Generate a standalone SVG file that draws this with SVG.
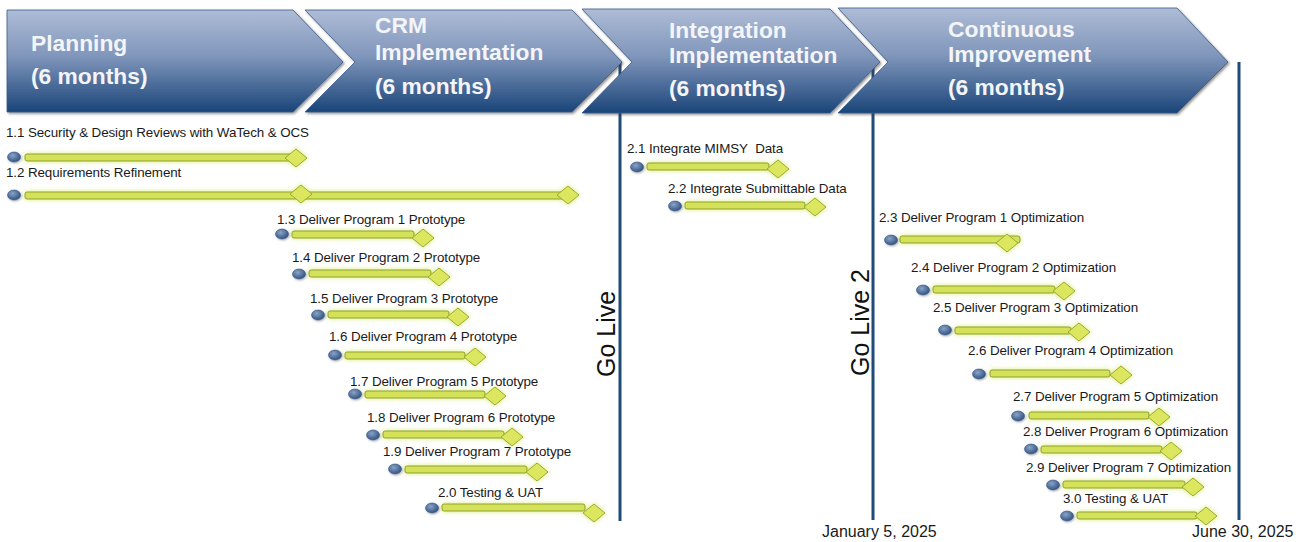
<svg xmlns="http://www.w3.org/2000/svg" width="1303" height="542" viewBox="0 0 1303 542">
<defs>
<linearGradient id="chev" x1="0" y1="0" x2="0" y2="1">
<stop offset="0" stop-color="#aebcd6"/>
<stop offset="0.45" stop-color="#8096bb"/>
<stop offset="1" stop-color="#1a4579"/>
</linearGradient>
<radialGradient id="dot" cx="0.4" cy="0.35" r="0.7">
<stop offset="0" stop-color="#8aa4c8"/>
<stop offset="1" stop-color="#2c4d7c"/>
</radialGradient>
<filter id="shadow" x="-5%" y="-10%" width="115%" height="130%">
<feDropShadow dx="1.5" dy="1.5" stdDeviation="1.2" flood-color="#404040" flood-opacity="0.55"/>
</filter>
<filter id="glow" x="-20%" y="-100%" width="140%" height="300%">
<feGaussianBlur in="SourceAlpha" stdDeviation="2.5" result="b"/>
<feFlood flood-color="#cfe65a" flood-opacity="0.85"/>
<feComposite in2="b" operator="in" result="g"/>
<feMerge><feMergeNode in="g"/><feMergeNode in="SourceGraphic"/></feMerge>
</filter>
<filter id="dsh" x="-50%" y="-50%" width="200%" height="200%">
<feDropShadow dx="0.8" dy="1" stdDeviation="0.8" flood-color="#000" flood-opacity="0.35"/>
</filter>
</defs>
<style>
.chev{fill:url(#chev);stroke:#3a5c8a;stroke-width:0.8;filter:url(#shadow);}
.ph{font-family:"Liberation Sans",Arial,sans-serif;font-weight:bold;font-size:22.8px;fill:#f4f5f8;}
.lbl{font-family:"Liberation Sans",Arial,sans-serif;font-size:13.4px;letter-spacing:-0.1px;fill:#1a1a1a;}
.gl{font-family:"Liberation Sans",Arial,sans-serif;font-size:25px;fill:#111;}
.dt{font-family:"Liberation Sans",Arial,sans-serif;font-size:16px;fill:#1a1a1a;}
.vl{stroke:#1f4b78;stroke-width:3;}
.bar{fill:#d4e25a;stroke:#8f9f2a;stroke-width:1;}
.dia{fill:#dce65e;stroke:#9aab2e;stroke-width:1;}
.dot{fill:url(#dot);stroke:#3a5a88;stroke-width:0.6;filter:url(#dsh);}
.task{filter:url(#glow);}
</style>
<rect width="1303" height="542" fill="#ffffff"/>

<g id="connectors">
<line class="vl" x1="620" y1="62" x2="620" y2="521"/>
<line class="vl" x1="873" y1="64" x2="873" y2="520"/>
<line class="vl" x1="1239" y1="62" x2="1239" y2="520"/>
</g>

<g id="phase-planning">
<polygon class="chev" points="7,10 293,10 343,62 293,112 7,112"/>
<text class="ph" x="31" y="51">Planning</text>
<text class="ph" x="31" y="84">(6 months)</text>
</g>
<g id="phase-crm">
<polygon class="chev" points="305,10 572,10 622,62 572,112 305,112 355,62"/>
<text class="ph" x="375" y="33">CRM</text>
<text class="ph" x="375" y="60">Implementation</text>
<text class="ph" x="375" y="94">(6 months)</text>
</g>
<g id="phase-integration">
<polygon class="chev" points="582,9 830,9 880,62 830,113 582,113 632,62"/>
<text class="ph" x="669" y="38">Integration</text>
<text class="ph" x="669" y="63">Implementation</text>
<text class="ph" x="669" y="96">(6 months)</text>
</g>
<g id="phase-continuous">
<polygon class="chev" points="838,8 1177,8 1228,62 1177,113 838,113 888,62"/>
<text class="ph" x="948" y="37">Continuous</text>
<text class="ph" x="948" y="62">Improvement</text>
<text class="ph" x="948" y="95">(6 months)</text>
</g>

<g id="milestone-golive">
<text class="gl" transform="translate(615,377) rotate(-90)">Go Live</text>
</g>
<g id="milestone-golive2">
<text class="gl" transform="translate(869,376) rotate(-90)">Go Live 2</text>
</g>
<g id="date-jan">
<text class="dt" x="822" y="537">January 5, 2025</text>
</g>
<g id="date-jun">
<text class="dt" x="1192" y="537">June 30, 2025</text>
</g>

<g id="task-1-1">
<text class="lbl" x="6" y="137">1.1 Security &amp; Design Reviews with WaTech &amp; OCS</text>
<g class="task"><rect class="bar" x="25" y="154" width="272" height="7" rx="2"/>
<polygon class="dia" points="296,149 307,158 296,167 285,158"/></g>
<ellipse class="dot" cx="14" cy="157" rx="6.5" ry="5"/>
</g>
<g id="task-1-2">
<text class="lbl" x="6" y="177">1.2 Requirements Refinement</text>
<g class="task"><rect class="bar" x="25" y="192" width="545" height="7" rx="2"/>
<polygon class="dia" points="301,185 312,194 301,203 290,194"/>
<polygon class="dia" points="568,186 579,195 568,204 557,195"/></g>
<ellipse class="dot" cx="14" cy="195" rx="6.5" ry="5"/>
</g>
<g id="task-1-3">
<text class="lbl" x="277" y="224">1.3 Deliver Program 1 Prototype</text>
<g class="task"><rect class="bar" x="292" y="231" width="122" height="7" rx="2"/>
<polygon class="dia" points="423,229 434,238 423,247 412,238"/></g>
<ellipse class="dot" cx="282" cy="234" rx="6.5" ry="5"/>
</g>
<g id="task-1-4">
<text class="lbl" x="292" y="262">1.4 Deliver Program 2 Prototype</text>
<g class="task"><rect class="bar" x="309" y="270" width="122" height="7" rx="2"/>
<polygon class="dia" points="439,268 450,277 439,286 428,277"/></g>
<ellipse class="dot" cx="299" cy="274" rx="6.5" ry="5"/>
</g>
<g id="task-1-5">
<text class="lbl" x="310" y="303">1.5 Deliver Program 3 Prototype</text>
<g class="task"><rect class="bar" x="328" y="311" width="121" height="7" rx="2"/>
<polygon class="dia" points="458,308 469,317 458,326 447,317"/></g>
<ellipse class="dot" cx="318" cy="315" rx="6.5" ry="5"/>
</g>
<g id="task-1-6">
<text class="lbl" x="329" y="341">1.6 Deliver Program 4 Prototype</text>
<g class="task"><rect class="bar" x="345" y="352" width="120" height="7" rx="2"/>
<polygon class="dia" points="475,348 486,357 475,366 464,357"/></g>
<ellipse class="dot" cx="335" cy="355" rx="6.5" ry="5"/>
</g>
<g id="task-1-7">
<text class="lbl" x="350" y="386">1.7 Deliver Program 5 Prototype</text>
<g class="task"><rect class="bar" x="365" y="391" width="120" height="7" rx="2"/>
<polygon class="dia" points="495,387 506,396 495,405 484,396"/></g>
<ellipse class="dot" cx="355" cy="394" rx="6.5" ry="5"/>
</g>
<g id="task-1-8">
<text class="lbl" x="367" y="422">1.8 Deliver Program 6 Prototype</text>
<g class="task"><rect class="bar" x="383" y="431" width="121" height="7" rx="2"/>
<polygon class="dia" points="512,428 523,437 512,446 501,437"/></g>
<ellipse class="dot" cx="373" cy="435" rx="6.5" ry="5"/>
</g>
<g id="task-1-9">
<text class="lbl" x="383" y="456">1.9 Deliver Program 7 Prototype</text>
<g class="task"><rect class="bar" x="405" y="466" width="122" height="7" rx="2"/>
<polygon class="dia" points="537,463 548,472 537,481 526,472"/></g>
<ellipse class="dot" cx="395" cy="469" rx="6.5" ry="5"/>
</g>
<g id="task-2-0">
<text class="lbl" x="438" y="497">2.0 Testing &amp; UAT</text>
<g class="task"><rect class="bar" x="442" y="504" width="143" height="7" rx="2"/>
<polygon class="dia" points="594,504 605,513 594,522 583,513"/></g>
<ellipse class="dot" cx="432" cy="508" rx="6.5" ry="5"/>
</g>

<g id="task-2-1">
<text class="lbl" x="627" y="153">2.1 Integrate MIMSY&#160; Data</text>
<g class="task"><rect class="bar" x="647" y="163" width="122" height="7" rx="2"/>
<polygon class="dia" points="778,160 789,169 778,178 767,169"/></g>
<ellipse class="dot" cx="637" cy="167" rx="6.5" ry="5"/>
</g>
<g id="task-2-2">
<text class="lbl" x="668" y="193">2.2 Integrate Submittable Data</text>
<g class="task"><rect class="bar" x="685" y="202" width="120" height="7" rx="2"/>
<polygon class="dia" points="815,198 826,207 815,216 804,207"/></g>
<ellipse class="dot" cx="675" cy="206" rx="6.5" ry="5"/>
</g>

<g id="task-2-3">
<text class="lbl" x="879" y="222">2.3 Deliver Program 1 Optimization</text>
<g class="task"><rect class="bar" x="900" y="236" width="120" height="7" rx="2"/>
<polygon class="dia" points="1007,234 1018,243 1007,252 996,243"/></g>
<ellipse class="dot" cx="891" cy="240" rx="6.5" ry="5"/>
</g>
<g id="task-2-4">
<text class="lbl" x="911" y="272">2.4 Deliver Program 2 Optimization</text>
<g class="task"><rect class="bar" x="933" y="286" width="122" height="7" rx="2"/>
<polygon class="dia" points="1064,282 1075,291 1064,300 1053,291"/></g>
<ellipse class="dot" cx="923" cy="290" rx="6.5" ry="5"/>
</g>
<g id="task-2-5">
<text class="lbl" x="933" y="312">2.5 Deliver Program 3 Optimization</text>
<g class="task"><rect class="bar" x="955" y="327" width="116" height="7" rx="2"/>
<polygon class="dia" points="1079,323 1090,332 1079,341 1068,332"/></g>
<ellipse class="dot" cx="945" cy="330" rx="6.5" ry="5"/>
</g>
<g id="task-2-6">
<text class="lbl" x="968" y="355">2.6 Deliver Program 4 Optimization</text>
<g class="task"><rect class="bar" x="990" y="370" width="120" height="7" rx="2"/>
<polygon class="dia" points="1121,366 1132,375 1121,384 1110,375"/></g>
<ellipse class="dot" cx="979" cy="374" rx="6.5" ry="5"/>
</g>
<g id="task-2-7">
<text class="lbl" x="1013" y="401">2.7 Deliver Program 5 Optimization</text>
<g class="task"><rect class="bar" x="1029" y="412" width="120" height="7" rx="2"/>
<polygon class="dia" points="1159,408 1170,417 1159,426 1148,417"/></g>
<ellipse class="dot" cx="1018" cy="416" rx="6.5" ry="5"/>
</g>
<g id="task-2-8">
<text class="lbl" x="1023" y="436">2.8 Deliver Program 6 Optimization</text>
<g class="task"><rect class="bar" x="1041" y="446" width="121" height="7" rx="2"/>
<polygon class="dia" points="1171,442 1182,451 1171,460 1160,451"/></g>
<ellipse class="dot" cx="1031" cy="449" rx="6.5" ry="5"/>
</g>
<g id="task-2-9">
<text class="lbl" x="1026" y="472">2.9 Deliver Program 7 Optimization</text>
<g class="task"><rect class="bar" x="1063" y="481" width="122" height="7" rx="2"/>
<polygon class="dia" points="1193,478 1204,487 1193,496 1182,487"/></g>
<ellipse class="dot" cx="1053" cy="485" rx="6.5" ry="5"/>
</g>
<g id="task-3-0">
<text class="lbl" x="1063" y="503">3.0 Testing &amp; UAT</text>
<g class="task"><rect class="bar" x="1077" y="512" width="120" height="7" rx="2"/>
<polygon class="dia" points="1206,507 1217,516 1206,525 1195,516"/></g>
<ellipse class="dot" cx="1067" cy="516" rx="6.5" ry="5"/>
</g>
</svg>
